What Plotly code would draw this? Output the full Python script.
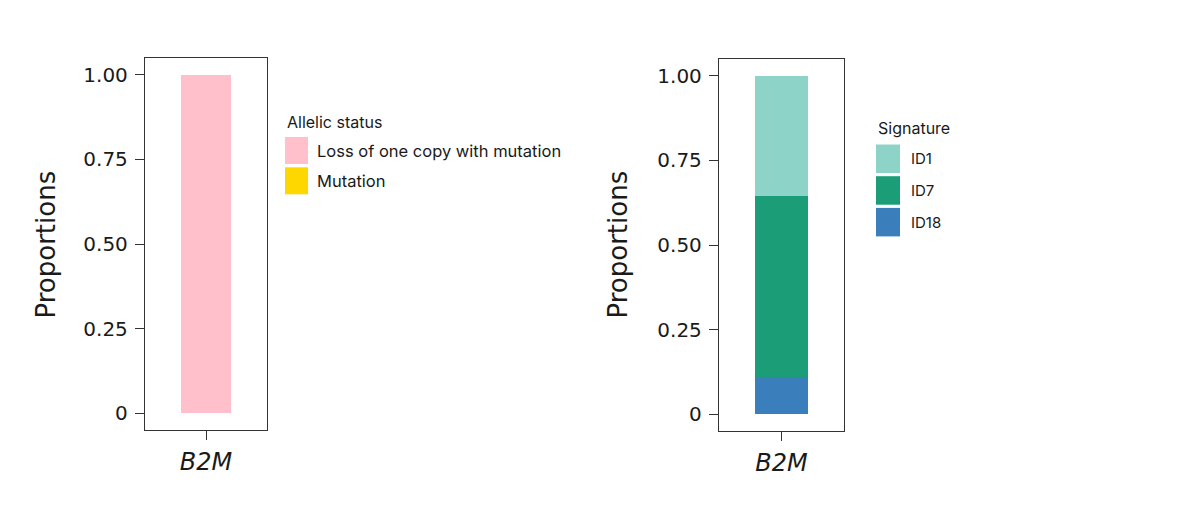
import plotly.graph_objects as go

# data
genes = ["B2M"]

allelic_status = ["Loss of one copy with mutation", "Mutation"]
allelic_values = [1.00, 0.00]
allelic_colors = ["#FFC0CB", "#FFD700"]

signatures = ["ID1", "ID7", "ID18"]
signature_values = [0.355, 0.535, 0.11]
signature_colors = ["#8DD3C7", "#1B9E77", "#3A7EBC"]

y_ticks = [0, 0.25, 0.5, 0.75, 1.0]
y_tick_labels = ["0", "0.25", "0.50", "0.75", "1.00"]

W, H = 1201, 524
OFF = 8  # page body margin
FONT = "Inter"
AXFONT = "DejaVu Sans"
INK = "#1a1a1a"


def px(x):
    return (x - OFF) / W


def py(y):
    return 1 - (y - OFF) / H


fig = go.Figure()

# ggplot stacks the first level on top, so add the traces bottom-up
for name, val, col in reversed(list(zip(allelic_status, allelic_values, allelic_colors))):
    fig.add_trace(go.Bar(x=genes, y=[val], name=name, marker=dict(color=col, line=dict(width=0)),
                         width=0.5, xaxis="x", yaxis="y", showlegend=False))

for name, val, col in reversed(list(zip(signatures, signature_values, signature_colors))):
    fig.add_trace(go.Bar(x=genes, y=[val], name=name, marker=dict(color=col, line=dict(width=0)),
                         width=0.5, xaxis="x2", yaxis="y2", showlegend=False))

xax = dict(type="category", range=[-0.6, 0.6], showline=True, mirror=True, linecolor="#333",
           linewidth=1.3, ticks="outside", ticklen=9, tickcolor="#333", tickwidth=1.3,
           showgrid=False, zeroline=False, ticklabelstandoff=1,
           tickfont=dict(family=AXFONT, size=24, color=INK, style="italic"))
yax = dict(range=[-0.05, 1.05], tickvals=y_ticks, ticktext=y_tick_labels, showline=True,
           mirror=True, linecolor="#333", linewidth=1.3, ticks="outside", ticklen=9,
           tickcolor="#333", tickwidth=1.3, showgrid=False, zeroline=False, ticklabelstandoff=3,
           tickfont=dict(family=AXFONT, size=20, color=INK))

fig.update_layout(
    width=W, height=H, barmode="stack", bargap=0,
    margin=dict(l=0, r=0, t=0, b=0),
    paper_bgcolor="white", plot_bgcolor="white",
    xaxis=dict(xax, domain=[px(145), px(267)], anchor="y"),
    yaxis=dict(yax, domain=[py(430), py(58)], anchor="x"),
    xaxis2=dict(xax, domain=[px(719), px(844)], anchor="y2"),
    yaxis2=dict(yax, domain=[py(431), py(59)], anchor="x2"),
    font=dict(family=FONT, color=INK),
)

# axis titles
for xc in [45, 617]:
    fig.add_annotation(text="Proportions", x=px(xc), y=py(244.5), xref="paper", yref="paper",
                       textangle=-90, showarrow=False, xanchor="center", yanchor="middle",
                       font=dict(family=AXFONT, size=26, color=INK))


def add_legend(title, names, colors, x0, w, title_y, top, h, step, text_x, title_size, size):
    fig.add_annotation(text=title, x=px(x0), y=py(title_y), xref="paper", yref="paper",
                       showarrow=False, xanchor="left", yanchor="middle",
                       font=dict(family=FONT, size=title_size, color=INK))
    for i, (n, c) in enumerate(zip(names, colors)):
        t = top + i * step
        fig.add_shape(type="rect", xref="paper", yref="paper", x0=px(x0), x1=px(x0 + w),
                      y0=py(t + h), y1=py(t), fillcolor=c, line=dict(width=0))
        fig.add_annotation(text=n, x=px(text_x), y=py(t + h / 2), xref="paper", yref="paper",
                           showarrow=False, xanchor="left", yanchor="middle",
                           font=dict(family=FONT, size=size, color=INK))


add_legend("Allelic status", allelic_status, allelic_colors, 285, 23, 121.5, 137, 27, 30.3, 315, 16, 16.5)
add_legend("Signature", signatures, signature_colors, 876, 24, 128.5, 144.5, 28.5, 31.7, 909, 16, 15)

fig.write_html("out.html")
